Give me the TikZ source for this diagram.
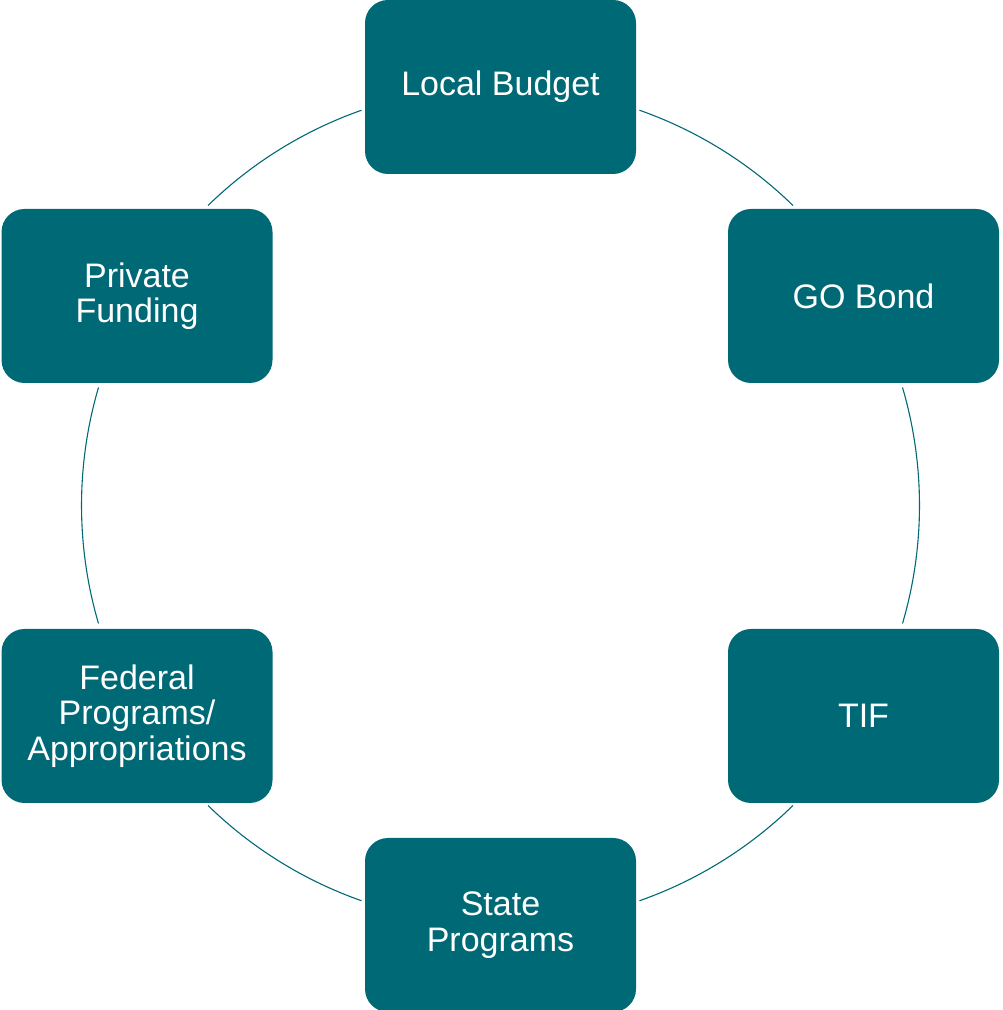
\documentclass[tikz,border=0pt]{standalone}
\usepackage{fontspec}
\setmainfont{Liberation Sans}
\definecolor{tealbox}{RGB}{0,105,118}
\begin{document}
\begin{tikzpicture}[x=1pt,y=1pt,
  fundbox/.style={rectangle, rounded corners=23pt, fill=tealbox, draw=none,
    minimum width=271pt, minimum height=174pt, inner sep=0pt, outer sep=0pt,
    text=white, align=center, font=\fontsize{34}{35.5}\selectfont},
  ring/.style={draw=tealbox, line width=1.1pt}]
\useasboundingbox (0,0) rectangle (1002,1010);
\coordinate (c) at (500.5,504.5);
\node[fundbox] (local) at (500.5,923) {Local Budget};
\node[fundbox] (gobond) at (863.5,714) {GO Bond};
\node[fundbox] (tif) at (863.5,294) {TIF};
\node[fundbox] (state) at (500.5,85) {State\\Programs};
\node[fundbox] (federal) at (137,294) {Federal\\Programs/\\Appropriations};
\node[fundbox] (private) at (137,714) {Private\\Funding};
\draw[ring] ([shift={(70.63:419)}]c) arc[start angle=70.63, end angle=45.73, radius=419];
\draw[ring] ([shift={(16.36:419)}]c) arc[start angle=16.36, end angle=-16.36, radius=419];
\draw[ring] ([shift={(-45.73:419)}]c) arc[start angle=-45.73, end angle=-70.63, radius=419];
\draw[ring] ([shift={(-109.37:419)}]c) arc[start angle=-109.37, end angle=-134.27, radius=419];
\draw[ring] ([shift={(-163.64:419)}]c) arc[start angle=-163.64, end angle=-196.36, radius=419];
\draw[ring] ([shift={(134.27:419)}]c) arc[start angle=134.27, end angle=109.37, radius=419];
\end{tikzpicture}
\end{document}
